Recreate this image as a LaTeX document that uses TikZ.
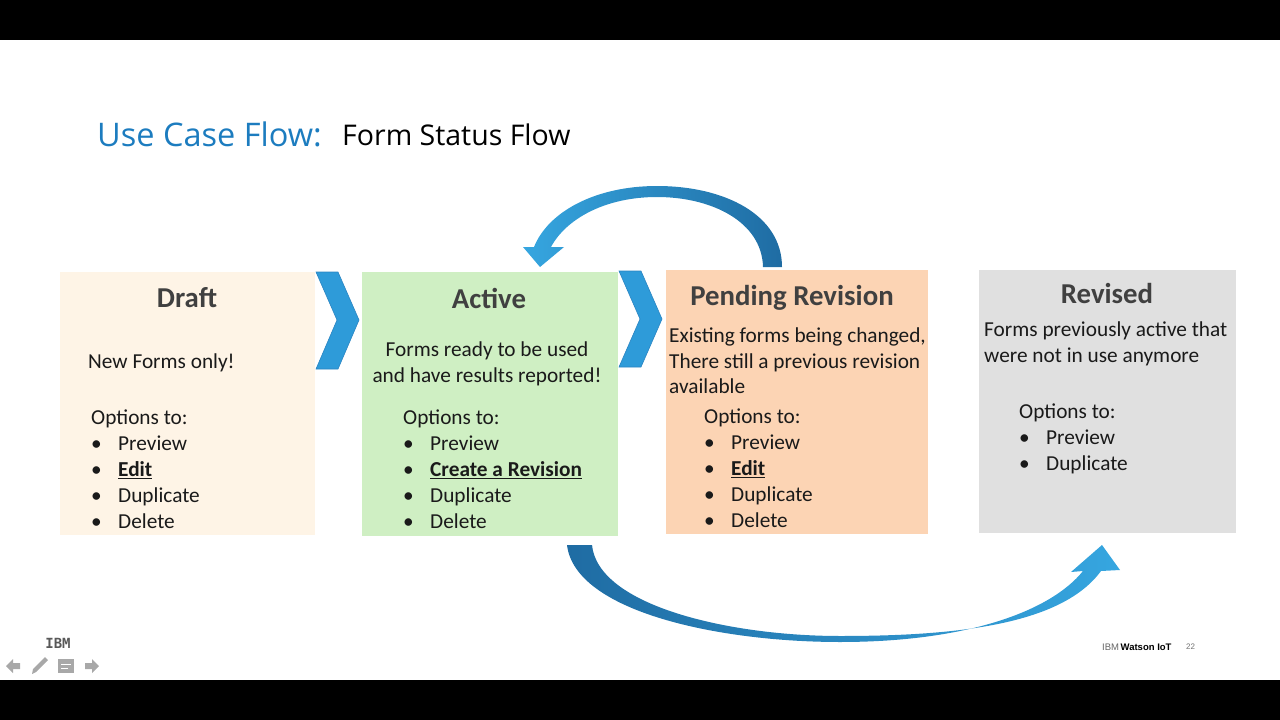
\documentclass[tikz,border=0pt]{standalone}
\usepackage{fontspec}
\setmainfont{Carlito}
\newfontfamily\titlefont{Open Sans}
\newfontfamily\footfont{Liberation Sans}
\newfontfamily\logofont{DejaVu Sans Mono}
\usetikzlibrary{positioning}

\definecolor{titleblue}{HTML}{1C7CBF}
\definecolor{draftbg}{HTML}{FEF4E6}
\definecolor{activebg}{HTML}{CFEFC3}
\definecolor{pendingbg}{HTML}{FCD4B4}
\definecolor{revisedbg}{HTML}{E0E0E0}
\definecolor{headgray}{HTML}{404040}
\definecolor{bodyblack}{HTML}{1A1A1A}
\definecolor{chevblue}{HTML}{2E9BD9}
\definecolor{chevedge}{HTML}{2A84C2}
\definecolor{arrowlight}{HTML}{36A6E0}
\definecolor{arrowdark}{HTML}{1F6CA3}
\definecolor{icongray}{HTML}{A8A8A8}

\tikzset{
  box/.style={rectangle, inner sep=0pt, anchor=north west},
  head/.style={font=\fontsize{28.8}{32}\selectfont\bfseries, text=headgray, inner sep=0pt},
  body/.style={font=\fontsize{21.3}{25.5}\selectfont, text=bodyblack, inner sep=0pt, align=left},
  opts/.style={body, font=\fontsize{21.3}{26}\selectfont, anchor=north west},
  chevron/.style={fill=chevblue, draw=chevedge, line width=0.6pt},
  icon/.style={fill=icongray, draw=none},
}
\newcommand{\bul}{\makebox[27pt][l]{\textbullet}}
\newcommand{\pick}[1]{\underline{\textbf{#1}}}

\begin{document}
\begin{tikzpicture}[x=1pt,y=-1pt]
\useasboundingbox (0,0) rectangle (1280,720);
\fill[black] (0,0) rectangle (1280,40);
\fill[black] (0,680) rectangle (1280,720);

% title
\node[anchor=west, inner sep=0pt, font=\titlefont\fontsize{32.5}{36}\selectfont, text=titleblue] (title) at (97,134) {Use Case Flow:};
\node[anchor=west, inner sep=0pt, font=\titlefont\fontsize{28.5}{32}\selectfont, text=black] (subtitle) at (342,135) {Form Status Flow};

% status boxes
\node[box, fill=draftbg, minimum width=255pt, minimum height=263pt] (draft) at (60,272) {};
\node[box, fill=activebg, minimum width=256pt, minimum height=264pt] (active) at (362,272) {};
\node[box, fill=pendingbg, minimum width=262pt, minimum height=264pt] (pending) at (666,270) {};
\node[box, fill=revisedbg, minimum width=257pt, minimum height=263pt] (revised) at (979,270) {};

% chevrons
\draw[chevron] (316,272) -- (338,272) -- (359,320) -- (338,369) -- (316,369) -- (337,320) -- cycle;
\draw[chevron] (619,271) -- (641,271) -- (662,319) -- (641,367) -- (619,367) -- (640,319) -- cycle;

% curved arrows
\shade[left color=arrowlight, right color=arrowdark]
  (782,267) .. controls (782,215) and (725,186) .. (657,186)
  .. controls (595,186) and (548,212) .. (534,247)
  -- (523,247) -- (540,267) -- (564,247) -- (551,247)
  .. controls (566,219) and (605,197) .. (657,197)
  .. controls (712,197) and (762,222) .. (763,267) -- cycle;
\shade[left color=arrowdark, right color=arrowlight]
  (567,545) .. controls (575,612) and (720,642) .. (840,642)
  .. controls (965,642) and (1050,612) .. (1083,571)
  -- (1071,572) -- (1102,545) -- (1120,570) -- (1101,571)
  .. controls (1062,624) and (960,636) .. (840,636)
  .. controls (730,636) and (598,606) .. (592,545) -- cycle;

% headings
\node[head] (drafthead) at (187,298) {Draft};
\node[head] (activehead) at (489,298) {Active};
\node[head] (pendinghead) at (792,298) {Pending Revision};
\node[head] (revisedhead) at (1107,293) {Revised};

% descriptions
\node[body, anchor=west] (draftdesc) at (88,363) {New Forms only!};
\node[body, align=center, anchor=north] (activedesc) at (487,342) {Forms ready to be used\\and have results reported!};
\node[body, anchor=north west] (pendingdesc) at (669,328) {Existing forms being changed,\\There still a previous revision\\available};
\node[body, anchor=north west] (reviseddesc) at (984,322) {Forms previously active that\\were not in use anymore};

% options
\node[opts] (draftopts) at (91,410) {Options to:\\\bul Preview\\\bul \pick{Edit}\\\bul Duplicate\\\bul Delete};
\node[opts] (activeopts) at (403,410) {Options to:\\\bul Preview\\\bul \pick{Create a Revision}\\\bul Duplicate\\\bul Delete};
\node[opts] (pendingopts) at (704,409) {Options to:\\\bul Preview\\\bul \pick{Edit}\\\bul Duplicate\\\bul Delete};
\node[opts] (revisedopts) at (1019,404) {Options to:\\\bul Preview\\\bul Duplicate};

% footer
\node[inner sep=0pt, font=\logofont\bfseries\fontsize{14}{16}\selectfont, text=black!65] (ibmlogo) at (58,643) {IBM};
\fill[icon] (6,666) -- (13,659) -- (13,663) -- (20,663) -- (20,669) -- (13,669) -- (13,673) -- cycle;
\fill[icon] (32,674) -- (33,669) -- (45,657) -- (48,660) -- (36,672) -- cycle;
\fill[icon] (58,659) rectangle (74,673);
\draw[white, line width=1pt] (61,664) -- (71,664) (61,668) -- (68,668);
\fill[icon] (99,666) -- (92,659) -- (92,663) -- (85,663) -- (85,669) -- (92,669) -- (92,673) -- cycle;
\node[anchor=west, inner sep=0pt, font=\footfont\fontsize{9.5}{11}\selectfont] (brand) at (1102,647) {\textcolor{black!60}{IBM}\,\textbf{Watson IoT}};
\node[anchor=west, inner sep=0pt, font=\footfont\fontsize{8}{10}\selectfont, text=black!55] (pagenum) at (1186,647) {22};
\end{tikzpicture}
\end{document}
